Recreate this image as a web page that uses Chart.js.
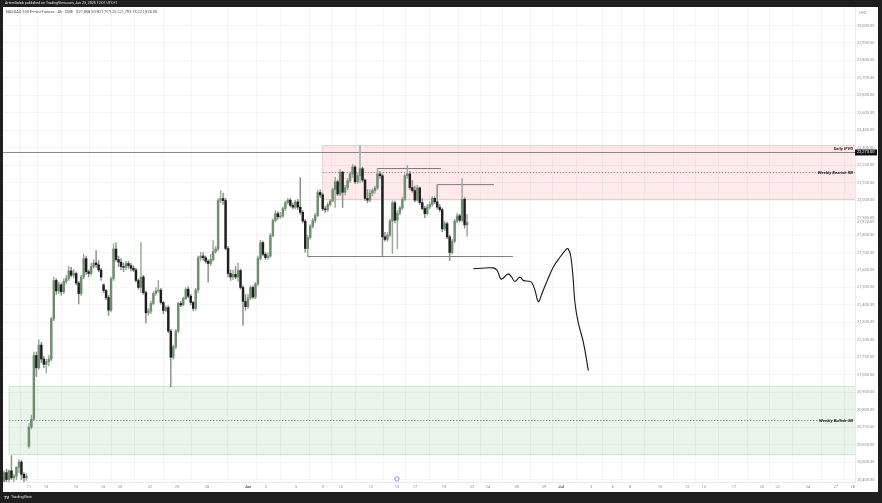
<!DOCTYPE html>
<html>
<head>
<meta charset="utf-8">
<script src="https://cdn.jsdelivr.net/npm/chart.js@4.4.1/dist/chart.umd.min.js"></script>
<style>
  html, body { margin: 0; padding: 0; background: #1e1e1e; overflow: hidden; }
  canvas { display: block; }
</style>
</head>
<body>
<canvas id="chart" width="882" height="503"></canvas>
<script>
// 4h candles, one per bar index (0 = first bar on the left)
const opens = [20390,20440,20400,20450,20410,20420,20470,20500,20430,20410,
  20590,20700,20745,21110,21040,21170,21090,21060,21075,21090,
  21320,21540,21480,21515,21475,21535,21550,21595,21570,21580,
  21525,21465,21560,21665,21590,21580,21620,21640,21630,21600,
  21515,21482,21442,21370,21550,21720,21660,21645,21620,21615,
  21637,21625,21610,21600,21540,21500,21560,21470,21355,21365,
  21408,21465,21480,21485,21414,21368,21385,21250,21100,21160,
  21250,21408,21400,21437,21490,21450,21414,21380,21485,21670,
  21680,21670,21650,21637,21660,21705,21720,21998,22009,21998,
  21723,21580,21560,21575,21560,21597,21500,21420,21390,21440,
  21500,21445,21520,21666,21757,21690,21671,21680,21797,21883,
  21923,21905,21910,21952,21986,22000,21970,21960,21990,21960,
  21930,21880,21723,21786,21850,21883,21912,22044,22030,21950,
  21945,21975,21995,22060,22105,22035,22160,22045,22072,22112,
  22150,22190,22105,22140,22180,22115,22010,22000,22040,22055,
  22070,22150,22140,21790,21775,21800,21880,21985,21885,21925,
  21955,22005,22140,22150,22072,22055,22000,22070,21986,21952,
  21923,21960,21975,22010,21990,21960,21945,21835,21865,21790,
  21700,21765,21880,21910,21885,22005,21858.5];
const highs = [20450,20460,20455,20537,20430,20475,20515,20510,20440,20435,
  20720,20770,21130,21130,21200,21185,21105,21090,21110,21330,
  21560,21550,21530,21525,21550,21570,21620,21615,21600,21590,
  21535,21570,21690,21680,21600,21640,21660,21711,21655,21610,
  21520,21490,21454,21560,21750,21757,21680,21665,21640,21650,
  21650,21640,21625,21610,21550,21757,21570,21480,21380,21420,
  21475,21500,21540,21495,21420,21395,21395,21260,21170,21260,
  21415,21420,21445,21500,21505,21460,21420,21495,21680,21700,
  21700,21680,21660,21690,21769,21735,22010,22055,22040,22010,
  21735,21600,21600,21620,21640,21605,21510,21460,21460,21510,
  21510,21530,21680,21770,21765,21700,21700,21810,21895,21940,
  21935,21930,21960,21995,22010,22010,21985,22000,22005,22130,
  21940,21890,21800,21860,21895,21925,22055,22060,22040,21965,
  21985,22005,22070,22130,22115,22175,22165,22085,22125,22160,
  22205,22198,22155,22313,22190,22120,22060,22060,22065,22080,
  22181,22165,22150,21815,21815,21890,21995,21995,21940,21965,
  22015,22150,22198,22165,22112,22080,22085,22075,22010,21965,
  21975,21990,22020,22020,22089,21975,21955,21880,21875,21800,
  21775,21890,21925,21920,22124,22015,21919.25];
const lows = [20360,20370,20380,20400,20380,20400,20440,20400,20380,20395,
  20580,20690,20740,20990,21030,21070,21040,21010,21050,21080,
  21310,21460,21465,21455,21465,21520,21540,21560,21555,21515,
  21405,21455,21550,21575,21560,21570,21610,21615,21590,21540,
  21470,21430,21340,21360,21540,21650,21620,21600,21590,21600,
  21610,21595,21590,21530,21490,21470,21460,21295,21340,21350,
  21400,21455,21470,21405,21350,21360,21240,20930,21090,21150,
  21240,21390,21395,21430,21440,21400,21365,21370,21470,21655,
  21655,21640,21530,21625,21650,21695,21710,21985,21975,21715,
  21560,21540,21545,21550,21535,21490,21282,21370,21380,21430,
  21437,21435,21510,21655,21680,21660,21660,21670,21790,21875,
  21890,21895,21900,21940,21975,21960,21950,21950,21945,21920,
  21870,21700,21677,21775,21840,21870,21905,22015,21940,21930,
  21935,21965,21990,21958,22025,22025,21958,22030,22060,22100,
  22130,22095,22095,22100,22105,21998,21985,21990,22025,22040,
  22060,22125,21683,21765,21765,21790,21694,21870,21723,21915,
  21945,21995,22125,22060,22045,21990,21995,21975,21945,21900,
  21915,21950,21965,21980,21950,21935,21820,21825,21780,21654,
  21690,21755,21870,21875,21875,21840,21793.75];
const closes = [20440,20400,20450,20410,20420,20470,20500,20430,20410,20420,
  20700,20745,21110,21040,21170,21090,21060,21075,21090,21320,
  21540,21480,21515,21475,21535,21550,21595,21570,21580,21525,
  21465,21560,21665,21590,21580,21620,21640,21630,21600,21560,
  21482,21442,21370,21550,21720,21660,21645,21620,21615,21637,
  21625,21610,21600,21540,21500,21560,21470,21355,21365,21408,
  21465,21480,21485,21414,21368,21385,21250,21100,21160,21250,
  21408,21400,21437,21490,21450,21414,21380,21485,21670,21680,
  21670,21650,21637,21660,21705,21720,21998,22009,21998,21723,
  21580,21560,21575,21560,21597,21500,21420,21390,21440,21500,
  21445,21520,21666,21757,21690,21671,21680,21797,21883,21923,
  21905,21910,21952,21986,22000,21970,21960,21990,21960,21930,
  21880,21723,21786,21850,21883,21912,22044,22030,21950,21945,
  21975,21995,22060,22105,22035,22160,22045,22072,22112,22150,
  22190,22105,22140,22180,22115,22010,22000,22040,22055,22070,
  22150,22140,21790,21775,21800,21880,21985,21885,21925,21955,
  22005,22140,22150,22072,22055,22000,22070,21986,21952,21923,
  21960,21975,22010,21990,21960,21945,21835,21865,21790,21700,
  21765,21880,21910,21885,22005,21858,21874];

// time axis: bar index of each date label
const dateLabels = ['11','13','15','18','20','22','25','28','Jun','3','5','9','10','12','15','17','19',
  '22','24','26','29','Jul','3','6','8','10','13','15','17','20','22','24','27','28'];
const dateTickBars = [10,16.9,28.9,39.8,46.6,58.6,69.5,81.5,98,105.2,117.3,128.1,135.3,147.4,157.8,165.1,176.7,
  188,194.4,206,216.9,223.7,235.8,244.6,251.4,263.5,274.3,281.1,293.2,304.4,310.8,322.9,334.1,340.9];

const priceTicks = [20400,20500,20600,20700,20800,20900,21000,21100,21200,21300,21400,21500,21600,
  21700,21800,21900,22000,22100,22200,22300,22400,22500,22600,22700,22800,22900,23000];

// drawn zones
const zoneNames = ['Weekly Bearish RB', 'Weekly Bullish OB'];
const zoneStartBar = [128, 2];
const zoneTop = [22313, 20932];
const zoneBottom = [22003, 20543];
const zoneMid = [22158, 20738];

const ifvgLevel = 22273;
const lastPrice = 21874;

// horizontal rays drawn on the chart
const segStart = [122, 150, 174];
const segEnd = [204.4, 175.5, 196.8];
const segPrice = [21677, 22181, 22089];

// hand drawn projection
const pathBars = [188.5,196.5,198.1,199.5,200.5,202.5,203.9,205.2,207.2,208.6,210.6,211.9,213.3,214.6,
  216,217.9,220.6,223.3,226,226.6,227.6,228.6,229.3,230.6,232.7,234.7];
const pathPrices = [21607,21612,21597,21549,21553,21578,21559,21534,21559,21540,21536,21530,21482,21419,
  21463,21530,21616,21673,21721,21721,21683,21549,21415,21301,21186,21024];

const X_MIN = -0.4, X_MAX = 341.8;
const FONT = 'Roboto, "Liberation Sans", sans-serif';

const up = closes.map((c, i) => c >= opens[i]);
const bodyColors = up.map(u => u ? '#6d8f6e' : '#1f1f1f');
const wickColors = up.map(u => u ? '#97ab97' : '#8c8c8c');

const fmt = v => v.toLocaleString('en-US', { minimumFractionDigits: 2, maximumFractionDigits: 2 });

const tvDecor = {
  id: 'tvDecor',
  beforeDraw(chart) {
    const { ctx, chartArea: a, scales: { x, y } } = chart;
    ctx.save();
    ctx.fillStyle = '#1e1e1e';
    ctx.fillRect(0, 0, chart.width, chart.height);
    ctx.fillStyle = '#ffffff';
    ctx.fillRect(a.left, a.top, y.right - a.left, x.bottom - a.top);
    ctx.fillStyle = '#e4e4e4';
    ctx.textBaseline = 'middle';
    ctx.font = '3.6px ' + FONT;
    ctx.fillText('ArtemSalab published on TradingView.com, Jun 23, 2025 12:01 UTC+1', a.left + 2, a.top / 2);
    ctx.font = 'bold 4px ' + FONT;
    ctx.fillText('TV', a.left + 1, (x.bottom + chart.height) / 2);
    ctx.font = '3.8px ' + FONT;
    ctx.fillText('TradingView', a.left + 8, (x.bottom + chart.height) / 2);
    ctx.restore();
  },
  beforeDatasetsDraw(chart) {
    const { ctx, chartArea: a, scales: { x, y } } = chart;
    ctx.save();
    ctx.beginPath();
    ctx.rect(a.left, a.top, a.right - a.left, a.bottom - a.top);
    ctx.clip();
    const fills = ['rgba(242,54,69,0.11)', 'rgba(76,175,80,0.12)'];
    const edges = ['rgba(242,54,69,0.3)', 'rgba(76,175,80,0.3)'];
    zoneNames.forEach((n, i) => {
      const l = x.getPixelForValue(zoneStartBar[i]);
      const t = y.getPixelForValue(zoneTop[i]);
      const b = y.getPixelForValue(zoneBottom[i]);
      ctx.fillStyle = fills[i];
      ctx.fillRect(l, t, a.right - l, b - t);
      ctx.strokeStyle = edges[i];
      ctx.lineWidth = 0.8;
      ctx.strokeRect(l, t, a.right - l + 2, b - t);
      const m = y.getPixelForValue(zoneMid[i]);
      ctx.strokeStyle = '#6b6b6b';
      ctx.lineWidth = 0.7;
      ctx.setLineDash([1.5, 1.5]);
      ctx.beginPath();
      ctx.moveTo(l, m);
      ctx.lineTo(a.right, m);
      ctx.stroke();
      ctx.setLineDash([]);
    });
    ctx.restore();
  },
  afterDraw(chart) {
    const { ctx, chartArea: a, scales: { x, y } } = chart;
    ctx.save();
    ctx.textBaseline = 'middle';
    // legend line
    ctx.fillStyle = '#4a4a4a';
    ctx.font = '3.9px ' + FONT;
    ctx.textAlign = 'left';
    ctx.fillText('NASDAQ 100 E-mini Futures \u00b7 4h \u00b7 CME   O' + fmt(opens[opens.length - 1]) +
      ' H' + fmt(highs[highs.length - 1]) + ' L' + fmt(lows[lows.length - 1]) +
      ' C' + fmt(closes[closes.length - 1]), a.left + 3, a.top + 5);
    // zone labels
    ctx.fillStyle = '#2a2a2a';
    ctx.font = 'italic bold 4.3px ' + FONT;
    ctx.textAlign = 'right';
    zoneNames.forEach((n, i) => ctx.fillText(n, a.right - 2, y.getPixelForValue(zoneMid[i])));
    ctx.fillText('Daily IFVG', a.right - 2, y.getPixelForValue(ifvgLevel) - 3.5);
    // price scale extras
    ctx.textAlign = 'left';
    ctx.fillStyle = '#8a8d96';
    ctx.font = '4px ' + FONT;
    ctx.fillText('USD', y.left + 4, a.top + 6);
    ctx.fillText(fmt(lastPrice), y.left + 2, y.getPixelForValue(lastPrice));
    const py = y.getPixelForValue(ifvgLevel);
    ctx.fillStyle = '#131313';
    ctx.fillRect(y.left, py - 3, y.width - 1, 6);
    ctx.fillStyle = '#ffffff';
    ctx.fillText(fmt(ifvgLevel), y.left + 2, py);
    // event marker on the time axis
    const ex = x.getPixelForValue(157.8);
    ctx.beginPath();
    ctx.arc(ex, a.bottom - 3, 2.3, 0, Math.PI * 2);
    ctx.fillStyle = '#efe9fb';
    ctx.fill();
    ctx.strokeStyle = '#8e6fd8';
    ctx.lineWidth = 0.7;
    ctx.stroke();
    ctx.restore();
  }
};

const lineDs = (data, color, width, tension) => ({
  type: 'line', data, borderColor: color, borderWidth: width, pointRadius: 0,
  tension: tension || 0, fill: false
});

const datasets = [
  {
    type: 'bar',
    data: opens.map((o, i) => ({ x: i, y: [o, closes[i]] })),
    backgroundColor: bodyColors,
    barThickness: 1.8,
    minBarLength: 0.8,
    grouped: false
  },
  {
    type: 'bar',
    data: lows.map((l, i) => ({ x: i, y: [l, highs[i]] })),
    backgroundColor: wickColors,
    barThickness: 0.8,
    grouped: false
  },
  lineDs([{ x: X_MIN, y: ifvgLevel }, { x: X_MAX, y: ifvgLevel }], '#6a6a6a', 0.8),
  ...segStart.map((s, i) => lineDs([{ x: s, y: segPrice[i] }, { x: segEnd[i], y: segPrice[i] }], '#5a5a5a', 0.8)),
  lineDs(pathBars.map((b, i) => ({ x: b, y: pathPrices[i] })), '#151515', 1.1, 0.4)
];

new Chart(document.getElementById('chart'), {
  type: 'bar',
  data: { datasets },
  options: {
    responsive: false,
    animation: false,
    layout: { padding: { left: 3, top: 7, right: 4, bottom: 11 } },
    plugins: { legend: { display: false }, tooltip: { enabled: false } },
    scales: {
      x: {
        type: 'linear',
        min: X_MIN,
        max: X_MAX,
        offset: false,
        afterFit: s => { s.height = 10; },
        afterBuildTicks: s => { s.ticks = dateTickBars.map(v => ({ value: v })); },
        ticks: {
          autoSkip: false,
          maxRotation: 0,
          padding: 2.5,
          color: ctx => ['Jun', 'Jul'].includes(dateLabels[ctx.index]) ? '#555' : '#8a8d96',
          font: ctx => ({ family: FONT, size: 4, weight: ['Jun', 'Jul'].includes(dateLabels[ctx.index]) ? 'bold' : 'normal' }),
          callback: (v, i) => dateLabels[i]
        },
        grid: { color: 'rgba(42,46,57,0.055)', lineWidth: 0.8, drawTicks: false },
        border: { color: '#e3e5ea', width: 0.8 }
      },
      y: {
        position: 'right',
        min: 20386,
        max: 23106,
        afterFit: s => { s.width = 23; },
        afterBuildTicks: s => { s.ticks = priceTicks.map(v => ({ value: v })); },
        ticks: {
          autoSkip: false,
          crossAlign: 'near',
          padding: 2,
          color: '#8a8d96',
          font: { family: FONT, size: 4 },
          callback: v => fmt(v)
        },
        grid: { color: 'rgba(42,46,57,0.055)', lineWidth: 0.8, drawTicks: false },
        border: { color: '#e3e5ea', width: 0.8 }
      }
    }
  },
  plugins: [tvDecor]
});
</script>
</body>
</html>
